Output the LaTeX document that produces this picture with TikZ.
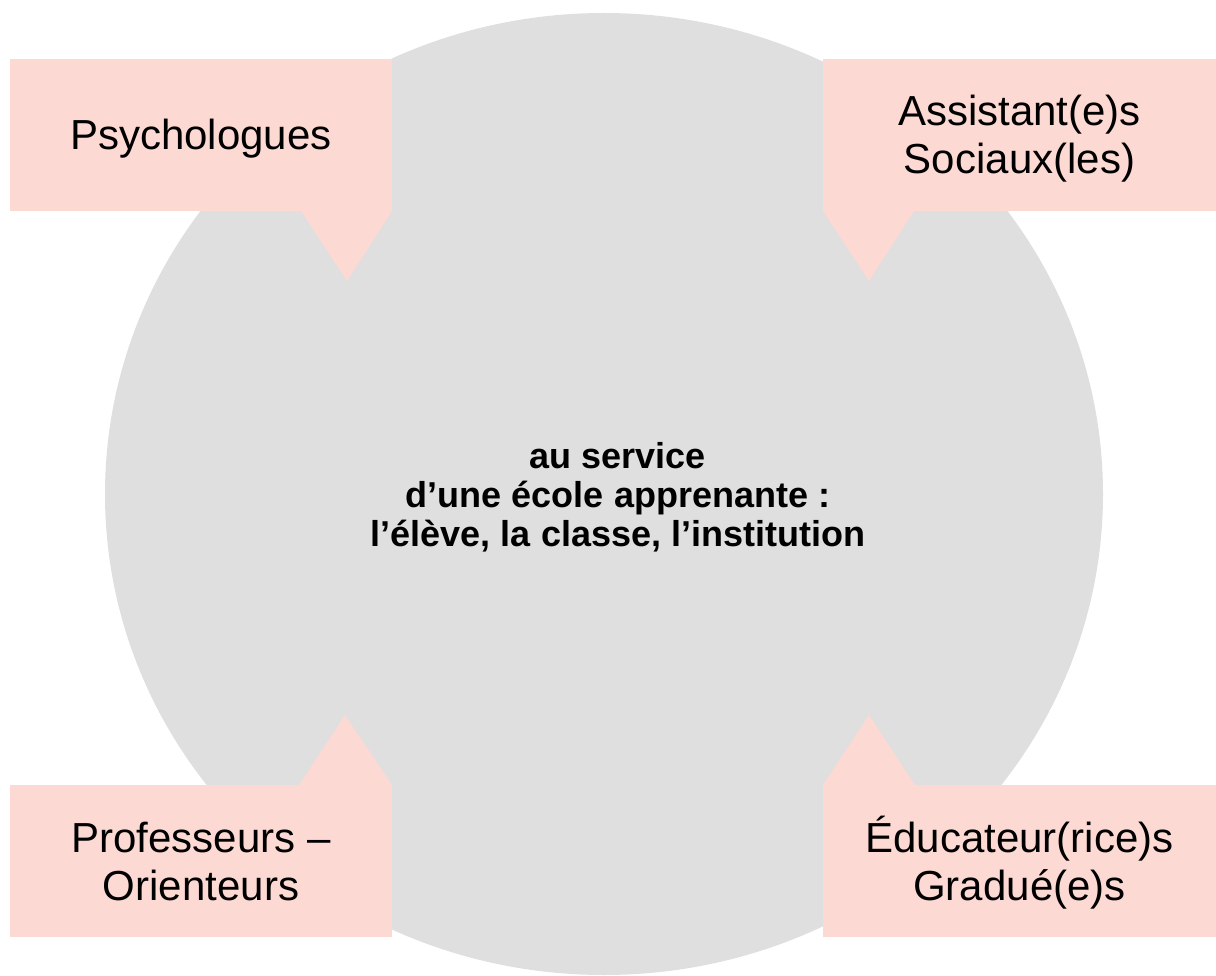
\documentclass[tikz,border=0pt]{standalone}
\usepackage{fontspec}
\setmainfont{Liberation Sans}
\usetikzlibrary{positioning}

\definecolor{discgrey}{HTML}{DFDFDF}
\definecolor{bubblepink}{HTML}{FDD9D3}

\tikzstyle{bubble}=[fill=bubblepink,minimum height=152pt,
    inner sep=0pt,outer sep=0pt,align=center,
    font=\fontsize{42}{48}\selectfont]
\tikzstyle{centre text}=[align=center,inner sep=0pt,
    font=\fontsize{36}{39}\selectfont\bfseries]
\newcommand{\bs}{\rule[-9pt]{0pt}{48pt}}
\newcommand{\pointer}[3]{
    \fill[bubblepink] (#1) -- ++(#2) -- ++(#3) -- cycle;
}

\begin{document}
\begin{tikzpicture}[x=1pt,y=-1pt]
    \useasboundingbox (0,0) rectangle (1216,976);
    %
    \fill[discgrey] (604,494) ellipse [x radius=499, y radius=481];
    \node[centre text] (ecole) at (618,497)
        {au service\\d’une école apprenante :\\l’élève, la classe, l’institution};
    %
    \node[bubble,minimum width=382pt] (PSY) at (201,135) {\bs Psychologues};
    \node[bubble,minimum width=393pt] (AS) at (1019.5,135)
        {\bs Assistant(e)s\\\bs Sociaux(les)};
    \node[bubble,minimum width=382pt] (PO) at (201,861)
        {\bs Professeurs –\\\bs Orienteurs};
    \node[bubble,minimum width=393pt] (EG) at (1019.5,861)
        {\bs Éducateur(rice)s\\\bs Gradué(e)s};
    %
    \pointer{PSY.south east}{-45,70}{-46,-70}
    \pointer{AS.south west}{46,70}{45,-70}
    \pointer{PO.north east}{-47,-70}{-46,70}
    \pointer{EG.north west}{46,-70}{46,70}
\end{tikzpicture}
\end{document}
